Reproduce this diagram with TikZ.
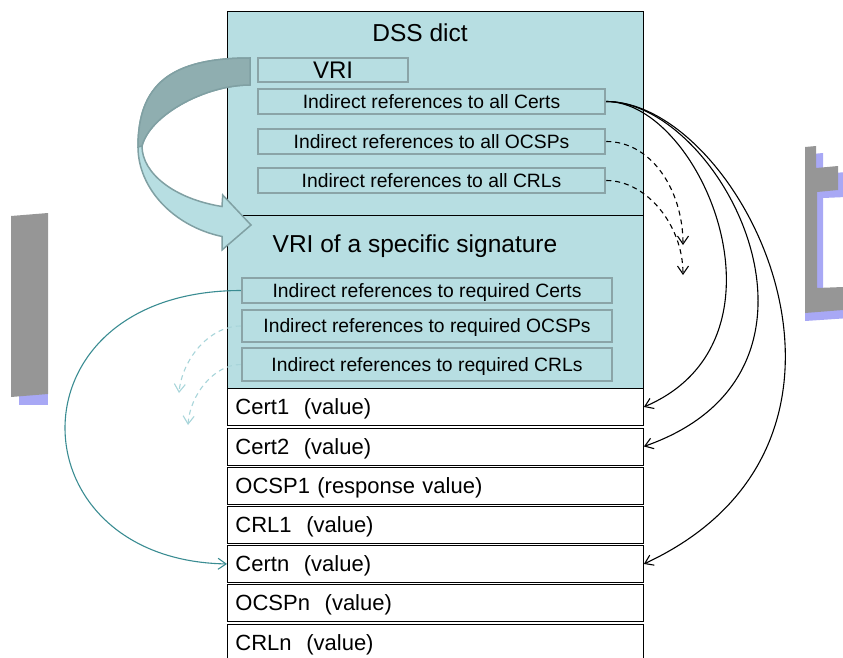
\documentclass[tikz,border=0pt]{standalone}
\usepackage{fontspec}
\setmainfont{Liberation Sans}
\usetikzlibrary{arrows.meta}
\definecolor{tealbg}{RGB}{183,222,226}
\definecolor{subborder}{RGB}{138,164,167}
\definecolor{arrdark}{RGB}{143,174,176}
\definecolor{arrborder}{RGB}{128,160,163}
\definecolor{linkteal}{RGB}{58,140,146}
\definecolor{faintteal}{RGB}{168,213,218}
\definecolor{shapegray}{RGB}{150,150,150}
\definecolor{shadowblue}{RGB}{168,168,245}
\begin{document}
\begin{tikzpicture}[x=1pt,y=-1pt,
  region/.style={draw=black, line width=0.9pt, fill=tealbg, anchor=north west, minimum width=416pt, inner sep=0pt},
  subbox/.style={draw=subborder, line width=2.5pt, fill=tealbg, inner sep=0pt, text height=13.9pt, text depth=0pt, font=\fontsize{19.3}{21}\selectfont},
  valbox/.style={draw=black, line width=0.9pt, fill=white, anchor=north west, minimum height=37pt, text width=400pt, align=left, inner xsep=8pt, inner ysep=0pt, text height=15.8pt, text depth=0pt, font=\fontsize{22}{24}\selectfont},
  title/.style={font=\fontsize{24.5}{27}\selectfont, inner sep=0pt},
  link/.style={draw=black, line width=1.1pt, -{Straight Barb[length=8pt,width=11pt]}},
  dlink/.style={link, dash pattern=on 5pt off 4pt},
  tlink/.style={draw=linkteal, line width=1.1pt, -{Straight Barb[length=8pt,width=11pt]}},
  flink/.style={draw=faintteal, line width=1.1pt, dash pattern=on 5pt off 4pt, -{Straight Barb[length=8pt,width=11pt]}}
]
\useasboundingbox (0,0) rectangle (843,658);

% stray grey shapes
\fill[shadowblue] (19,394) rectangle (48,405);
\fill[shapegray] (11,216) -- (48,213) -- (48,394) -- (11,397) -- cycle;
\fill[shadowblue] (812,154) -- (823,153) -- (823,174) -- (846,172) -- (846,197) -- (823,198) -- (823,295) -- (850,293) -- (850,318) -- (805,321) -- (805,313) -- cycle;
\fill[shapegray] (805,147) -- (816,146) -- (816,168) -- (838,166) -- (838,190) -- (817,192) -- (817,288) -- (843,287) -- (843,310) -- (805,313) -- cycle;

% main regions
\node[region, minimum height=204pt] (dss) at (227,11) {};
\node[region, minimum height=173pt] (vriregion) at (227,215) {};
\node[title] (dsstitle) at (420,32.5) {DSS dict};
\node[title] (vrititle) at (415,246) {VRI of a specific signature};

\node[subbox, minimum width=150pt, minimum height=24pt, text height=17.3pt, font=\fontsize{24}{26}\selectfont] (vribox) at (333,70) {VRI};
\node[subbox, minimum width=347pt, minimum height=25pt] (refcerts) at (431.5,101.5) {Indirect references to all Certs};
\node[subbox, minimum width=347pt, minimum height=25pt] (refocsp) at (431.5,141.5) {Indirect references to all OCSPs};
\node[subbox, minimum width=347pt, minimum height=25pt] (refcrl) at (431.5,180.5) {Indirect references to all CRLs};

\node[subbox, minimum width=370pt, minimum height=25pt] (reqcerts) at (427,290.5) {Indirect references to required Certs};
\node[subbox, minimum width=370pt, minimum height=32pt] (reqocsp) at (427,326) {Indirect references to required OCSPs};
\node[subbox, minimum width=370pt, minimum height=33pt] (reqcrl) at (427,364.5) {Indirect references to required CRLs};

% value boxes
\node[valbox] (cert1) at (227,388) {Cert1~~(value)};
\node[valbox] (cert2) at (227,427.5) {Cert2~~(value)};
\node[valbox] (ocsp1) at (227,466.5) {OCSP1 (response value)};
\node[valbox] (crl1) at (227,505.5) {CRL1~~(value)};
\node[valbox] (certn) at (227,545) {Certn~~(value)};
\node[valbox] (ocspn) at (227,584) {OCSPn~~(value)};
\node[valbox] (crln) at (227,623.5) {CRLn~~(value)};

% big curved arrow
\path[fill=tealbg, draw=arrborder, line width=1.5pt]
  (250,58) .. controls (170,58) and (138,85) .. (138,147)
  .. controls (138,187.6) and (172.6,226) .. (222,236.5)
  -- (222,250) -- (251,225) -- (222.7,195) -- (222,206.5)
  .. controls (174.8,199) and (142,173.6) .. (142,146)
  .. controls (150,115) and (205,85) .. (250,85) -- cycle;
\path[fill=arrdark, draw=arrborder, line width=1.5pt]
  (250,58) .. controls (170,58) and (138,85) .. (138,147)
  -- (142,146) .. controls (150,115) and (205,85) .. (250,85) -- cycle;

% connectors
\coordinate (ocspend) at (683,245);
\coordinate (crlend) at (683,275);
\coordinate (fadeA) at (179,393);
\coordinate (fadeB) at (188,425);

\draw[link] (refcerts.east) .. controls +(95,0) and +(157,-67) .. (cert1.east);
\draw[link] (refcerts.east) .. controls +(115,0) and +(217,-76) .. (cert2.east);
\draw[link] (refcerts.east) .. controls +(135,0) and +(267,-124) .. (certn.east);
\draw[dlink] (refocsp.east) .. controls +(45,0) and +(0,-55) .. (ocspend);
\draw[dlink] (refcrl.east) .. controls +(40,0) and +(0,-50) .. (crlend);

\draw[tlink] (reqcerts.west) .. controls (6,291) and (12,560) .. (certn.west);
\draw[flink] (reqocsp.west) .. controls +(-32,0) and +(3,-33) .. (fadeA);
\draw[flink] (reqcrl.west) .. controls +(-27,0) and +(2,-30) .. (fadeB);
\end{tikzpicture}
\end{document}
